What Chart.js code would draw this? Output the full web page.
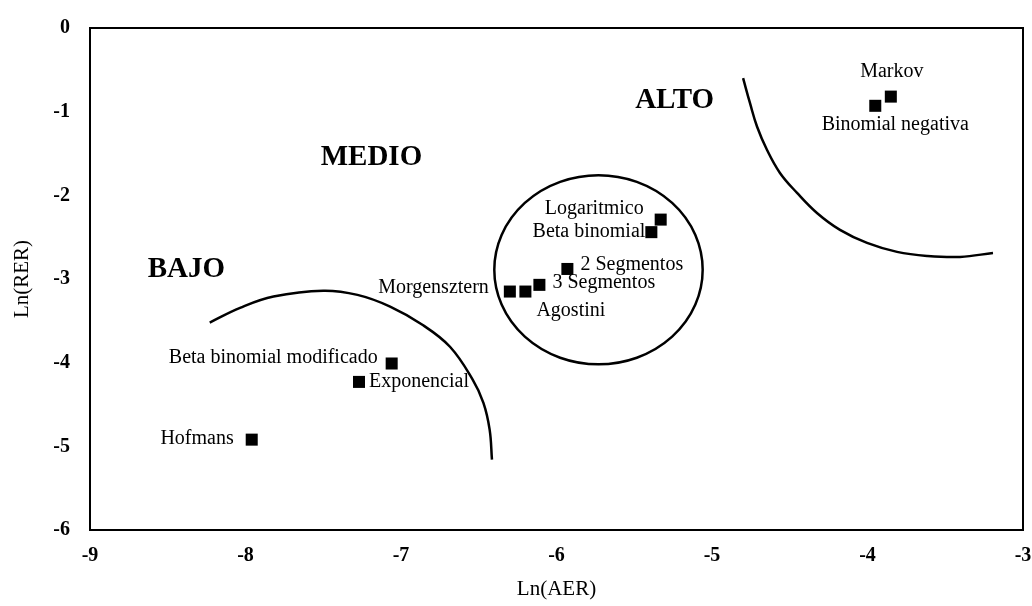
<!DOCTYPE html>
<html>
<head>
<meta charset="utf-8">
<script src="https://cdn.jsdelivr.net/npm/chart.js@4/dist/chart.umd.min.js"></script>
<style>
  html, body { margin: 0; padding: 0; background: #fff; }
  #wrap { width: 1032px; height: 606px; }
</style>
</head>
<body>
<div id="wrap"><canvas id="riesgo" width="1032" height="606"></canvas></div>
<script>
// modelos: Ln(AER) vs Ln(RER)
const modelNames = ['Markov', 'Binomial negativa', 'Logaritmico', 'Beta binomial', '2 Segmentos',
  '3 Segmentos', 'Agostini', 'Morgensztern', 'Beta binomial modificado', 'Exponencial', 'Hofmans']
const aerValues = [-3.85, -3.95, -5.33, -5.39, -5.93, -6.11, -6.20, -6.30, -7.06, -7.27, -7.96]
const rerValues = [-0.82, -0.93, -2.29, -2.44, -2.88, -3.07, -3.15, -3.15, -4.01, -4.23, -4.92]

const xTickValues = [-9, -8, -7, -6, -5, -4, -3]
const yTickValues = [0, -1, -2, -3, -4, -5, -6]

// zonas
const zoneNames = ['BAJO', 'MEDIO', 'ALTO']
const zoneAer = [-8.38, -7.19, -5.24]
const zoneRer = [-2.89, -1.55, -0.87]

// frontera zona baja
const lowEdgeAer = [-8.23, -8.035, -7.82, -7.50, -7.28, -7.07, -6.86, -6.685, -6.54, -6.47, -6.43, -6.415]
const lowEdgeRer = [-3.52, -3.345, -3.21, -3.14, -3.19, -3.33, -3.55, -3.81, -4.20, -4.48, -4.80, -5.16]
// frontera zona alta
const highEdgeAer = [-4.80, -4.756, -4.71, -4.646, -4.563, -4.453, -4.325, -4.177, -4.003, -3.81, -3.617, -3.405, -3.193]
const highEdgeRer = [-0.60, -0.896, -1.18, -1.458, -1.732, -1.971, -2.211, -2.413, -2.569, -2.676, -2.724, -2.736, -2.688]
// circulo zona media
const midCenter = { aer: -5.73, rer: -2.89 }
const midRadius = { aer: 0.67, rer: 1.13 }

// donde va cada etiqueta respecto a su punto (px)
const labelPlacement = [
  { dx: 1, dy: -25, align: 'center' },
  { dx: 20, dy: 19, align: 'center' },
  { dx: -17, dy: -11, align: 'right' },
  { dx: -6, dy: 0, align: 'right' },
  { dx: 13, dy: -4, align: 'left' },
  { dx: 13, dy: -2, align: 'left' },
  { dx: 11, dy: 19, align: 'left' },
  { dx: -21, dy: -4, align: 'right' },
  { dx: -14, dy: -6, align: 'right' },
  { dx: 10, dy: 0, align: 'left' },
  { dx: -18, dy: -1, align: 'right' }
]

const serif = "'Liberation Serif', 'Times New Roman', serif"

const toXY = (xs, ys) => xs.map((x, i) => ({ x: x, y: ys[i] }))

const decorations = {
  id: 'decorations',
  beforeDatasetsDraw(chart) {
    const { ctx, chartArea, scales } = chart
    const sx = scales.x, sy = scales.y
    ctx.save()
    // marco
    ctx.strokeStyle = '#000'
    ctx.lineWidth = 2
    ctx.strokeRect(chartArea.left, chartArea.top, chartArea.right - chartArea.left, chartArea.bottom - chartArea.top)
    // circulo
    const cx = sx.getPixelForValue(midCenter.aer)
    const cy = sy.getPixelForValue(midCenter.rer)
    const rx = sx.getPixelForValue(midCenter.aer + midRadius.aer) - cx
    const ry = sy.getPixelForValue(midCenter.rer - midRadius.rer) - cy
    ctx.lineWidth = 2.5
    ctx.beginPath()
    ctx.ellipse(cx, cy, rx, ry, 0, 0, Math.PI * 2)
    ctx.stroke()
    // nombres de zona
    ctx.fillStyle = '#000'
    ctx.font = 'bold 29px ' + serif
    ctx.textAlign = 'center'
    ctx.textBaseline = 'middle'
    zoneNames.forEach((name, i) => {
      ctx.fillText(name, sx.getPixelForValue(zoneAer[i]), sy.getPixelForValue(zoneRer[i]))
    })
    ctx.restore()
  },
  afterDatasetsDraw(chart) {
    const { ctx } = chart
    const meta = chart.getDatasetMeta(0)
    ctx.save()
    ctx.fillStyle = '#000'
    ctx.font = '20px ' + serif
    ctx.textBaseline = 'middle'
    meta.data.forEach((pt, i) => {
      const p = labelPlacement[i]
      ctx.textAlign = p.align
      ctx.fillText(modelNames[i], pt.x + p.dx, pt.y + p.dy)
    })
    ctx.restore()
  }
}

const edgeLine = {
  showLine: true,
  tension: 0.4,
  pointRadius: 0,
  borderColor: '#000',
  borderWidth: 2.5,
  fill: false
}

const ctx = document.querySelector('#riesgo')
const chart = new Chart(ctx, {
  type: 'scatter',
  data: {
    datasets: [
      {
        label: 'Modelos',
        data: toXY(aerValues, rerValues),
        pointStyle: 'rect',
        pointRadius: 8.5,
        pointHoverRadius: 8.5,
        backgroundColor: '#000',
        borderColor: '#000',
        borderWidth: 0
      },
      { label: 'Bajo', data: toXY(lowEdgeAer, lowEdgeRer), ...edgeLine },
      { label: 'Alto', data: toXY(highEdgeAer, highEdgeRer), ...edgeLine }
    ]
  },
  options: {
    responsive: false,
    animation: false,
    events: [],
    layout: { padding: { top: 28, right: 9, left: 0, bottom: 0 } },
    plugins: {
      legend: { display: false },
      tooltip: { enabled: false }
    },
    scales: {
      x: {
        type: 'linear',
        min: -9,
        max: -3,
        afterBuildTicks: s => { s.ticks = xTickValues.map(v => ({ value: v })) },
        afterFit: s => { s.height = 76; s.paddingLeft = 0; s.paddingRight = 0 },
        grid: { display: false, drawTicks: false },
        border: { display: false },
        ticks: {
          padding: 14,
          color: '#000',
          font: { family: serif, size: 20, weight: 'bold' }
        },
        title: {
          display: true,
          text: 'Ln(AER)',
          color: '#000',
          font: { family: serif, size: 21 },
          padding: { top: 4, bottom: 4 }
        }
      },
      y: {
        type: 'linear',
        min: -6,
        max: 0,
        afterBuildTicks: s => { s.ticks = yTickValues.map(v => ({ value: v })) },
        afterFit: s => { s.width = 90; s.paddingTop = 0; s.paddingBottom = 0 },
        grid: { display: false, drawTicks: false },
        border: { display: false },
        ticks: {
          padding: 20,
          color: '#000',
          font: { family: serif, size: 20, weight: 'bold' }
        },
        title: {
          display: true,
          text: 'Ln(RER)',
          color: '#000',
          font: { family: serif, size: 21 },
          padding: { top: 10, bottom: 0 }
        }
      }
    }
  },
  plugins: [decorations]
})
</script>
</body>
</html>
